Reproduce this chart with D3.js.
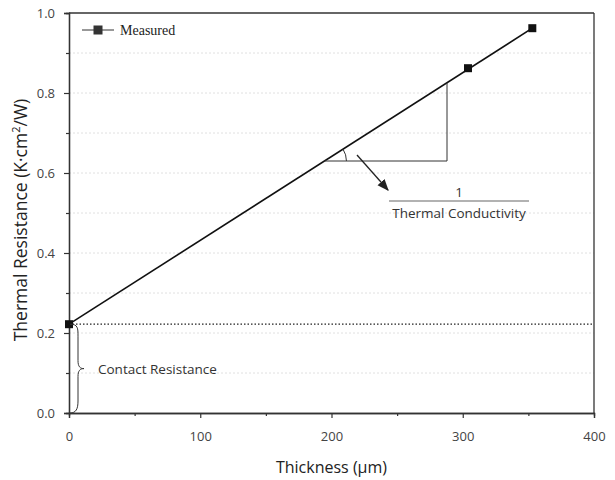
<!DOCTYPE html>
<html><head><meta charset="utf-8">
<script src="https://cdn.jsdelivr.net/npm/d3@7"></script>
<style>body{margin:0;background:#fff}svg{display:block}text{font-family:"Open Sans",Calibri,sans-serif}</style>
</head><body>
<script>
const thickness = [0, 304, 353];
const resistance = [0.222, 0.862, 0.962];
const xTicks = [0, 100, 200, 300, 400];
const yTicks = [0.0, 0.2, 0.4, 0.6, 0.8, 1.0];
const fitStart = [0, 0.222];
const fitEnd = [353, 0.962];
const contactResistance = 0.222;

const W = 615, H = 480;
const m = {l: 69, r: 21, t: 13, b: 67};
const svg = d3.select("body").append("svg").attr("width", W).attr("height", H);
const x = d3.scaleLinear().domain([0, 400]).range([m.l, W - m.r]);
const y = d3.scaleLinear().domain([0, 1]).range([H - m.b, m.t]);
const axisColor = "#333";

// grid
svg.append("g").selectAll("line").data(d3.range(0.1, 1.0, 0.1)).join("line")
  .attr("x1", x(0)).attr("x2", x(400)).attr("y1", d => y(d)).attr("y2", d => y(d))
  .attr("stroke", "#d8d8d8").attr("stroke-width", 0.8).attr("stroke-dasharray", "2,2");

// contact resistance dotted line
svg.append("line").attr("x1", x(0)).attr("x2", x(400))
  .attr("y1", y(contactResistance)).attr("y2", y(contactResistance))
  .attr("stroke", "#222").attr("stroke-width", 1.2).attr("stroke-dasharray", "1.5,2");

// frame
svg.append("line").attr("x1", x(0)).attr("x2", x(400)).attr("y1", y(1)).attr("y2", y(1)).attr("stroke", axisColor).attr("stroke-width", 1.3);
svg.append("line").attr("x1", x(400)).attr("x2", x(400)).attr("y1", y(0)).attr("y2", y(1)).attr("stroke", axisColor).attr("stroke-width", 1.3);

// axes
svg.append("g").attr("transform", `translate(0,${y(0)})`)
  .call(d3.axisBottom(x).tickValues(xTicks).tickFormat(d3.format("d")).tickSize(5).tickPadding(14));
svg.append("g").attr("transform", `translate(0,${y(0)})`)
  .call(d3.axisBottom(x).tickValues([50, 150, 250, 350]).tickFormat("").tickSize(3));
svg.append("g").attr("transform", `translate(${x(0)},0)`)
  .call(d3.axisLeft(y).tickValues(yTicks).tickFormat(d3.format(".1f")).tickSize(5).tickPadding(9));
svg.append("g").attr("transform", `translate(${x(0)},0)`)
  .call(d3.axisLeft(y).tickValues([0.1, 0.3, 0.5, 0.7, 0.9]).tickFormat("").tickSize(3));
svg.selectAll(".domain").attr("stroke", axisColor).attr("stroke-width", 1.3);
svg.selectAll(".tick line").attr("stroke", axisColor).attr("stroke-width", 1.2);
svg.selectAll(".tick text").attr("fill", "#444").style("font-size", "13px");

// titles
svg.append("text").attr("x", (x(0) + x(400)) / 2).attr("y", 473).attr("text-anchor", "middle")
  .attr("fill", "#222").style("font-size", "16px").text("Thickness (µm)");
svg.append("text").attr("transform", `translate(27,220) rotate(-90)`)
  .attr("text-anchor", "middle").attr("fill", "#222").style("font-size", "17.5px")
  .html('Thermal Resistance (K·cm<tspan dy="-7" font-size="11">2</tspan><tspan dy="7">/W)</tspan>');

// fit line
svg.append("line").attr("x1", x(fitStart[0])).attr("y1", y(fitStart[1]))
  .attr("x2", x(fitEnd[0])).attr("y2", y(fitEnd[1])).attr("stroke", "#111").attr("stroke-width", 1.6);

// markers
const pts = thickness.map((t, i) => ({t, r: resistance[i]}));
svg.append("g").selectAll("rect").data(pts).join("rect")
  .attr("x", d => x(d.t) - 4).attr("y", d => y(d.r) - 4).attr("width", 8).attr("height", 8).attr("fill", "#111");

// slope triangle
const slope = (fitEnd[1] - fitStart[1]) / (fitEnd[0] - fitStart[0]);
const triY = 0.63, triX2 = 288;
const triX1 = (triY - fitStart[1]) / slope;
const triTop = fitStart[1] + slope * triX2;
svg.append("path").attr("d", `M${x(triX1)},${y(triY)} H${x(triX2)} V${y(triTop)}`)
  .attr("fill", "none").attr("stroke", "#333").attr("stroke-width", 1);
// angle arc
const vx = x(triX1), vy = y(triY), rad = 22;
const ang = Math.atan2(y(triY) - y(triY + slope * 100), x(100) - x(0));
svg.append("path").attr("d", `M${vx + rad},${vy} A${rad},${rad} 0 0 0 ${vx + rad * Math.cos(ang)},${vy - rad * Math.sin(ang)}`)
  .attr("fill", "none").attr("stroke", "#333").attr("stroke-width", 1);
// arrow
svg.append("defs").append("marker").attr("id", "ah").attr("viewBox", "0 0 10 10").attr("refX", 9).attr("refY", 5)
  .attr("markerWidth", 9).attr("markerHeight", 9).attr("orient", "auto")
  .append("path").attr("d", "M0,1 L10,5 L0,9 z").attr("fill", "#222");
svg.append("line").attr("x1", 357).attr("y1", 155).attr("x2", 388).attr("y2", 190)
  .attr("stroke", "#222").attr("stroke-width", 1.3).attr("marker-end", "url(#ah)");
// fraction
svg.append("text").attr("x", 459).attr("y", 197).attr("text-anchor", "middle").attr("fill", "#333").style("font-size", "13.5px").text("1");
svg.append("line").attr("x1", 389).attr("x2", 529).attr("y1", 201).attr("y2", 201).attr("stroke", "#666").attr("stroke-width", 1.2);
svg.append("text").attr("x", 459).attr("y", 218).attr("text-anchor", "middle").attr("fill", "#333").style("font-size", "13.5px").text("Thermal Conductivity");

// brace
const by1 = y(contactResistance), by2 = y(0), bm = (by1 + by2) / 2, bx = x(0) + 1;
svg.append("path").attr("d",
  `M${bx},${by1} C${bx + 8},${by1} ${bx + 8},${by1 + 4} ${bx + 8},${by1 + 12} L${bx + 8},${bm - 8} C${bx + 8},${bm - 2} ${bx + 10},${bm} ${bx + 14},${bm}` +
  ` C${bx + 10},${bm} ${bx + 8},${bm + 2} ${bx + 8},${bm + 8} L${bx + 8},${by2 - 12} C${bx + 8},${by2 - 4} ${bx + 6},${by2} ${bx},${by2}`)
  .attr("fill", "none").attr("stroke", "#333").attr("stroke-width", 1);
svg.append("text").attr("x", 98).attr("y", bm + 5).attr("fill", "#333").style("font-size", "13.5px").text("Contact Resistance");

// legend
svg.append("line").attr("x1", 82).attr("x2", 114).attr("y1", 30).attr("y2", 30).attr("stroke", "#333").attr("stroke-width", 1);
svg.append("rect").attr("x", 93.5).attr("y", 25.5).attr("width", 9).attr("height", 9).attr("fill", "#333");
svg.append("text").attr("x", 120).attr("y", 35).attr("fill", "#222")
  .style("font-family", '"Liberation Serif","Times New Roman",serif').style("font-size", "14px").text("Measured");
</script>
</body></html>
